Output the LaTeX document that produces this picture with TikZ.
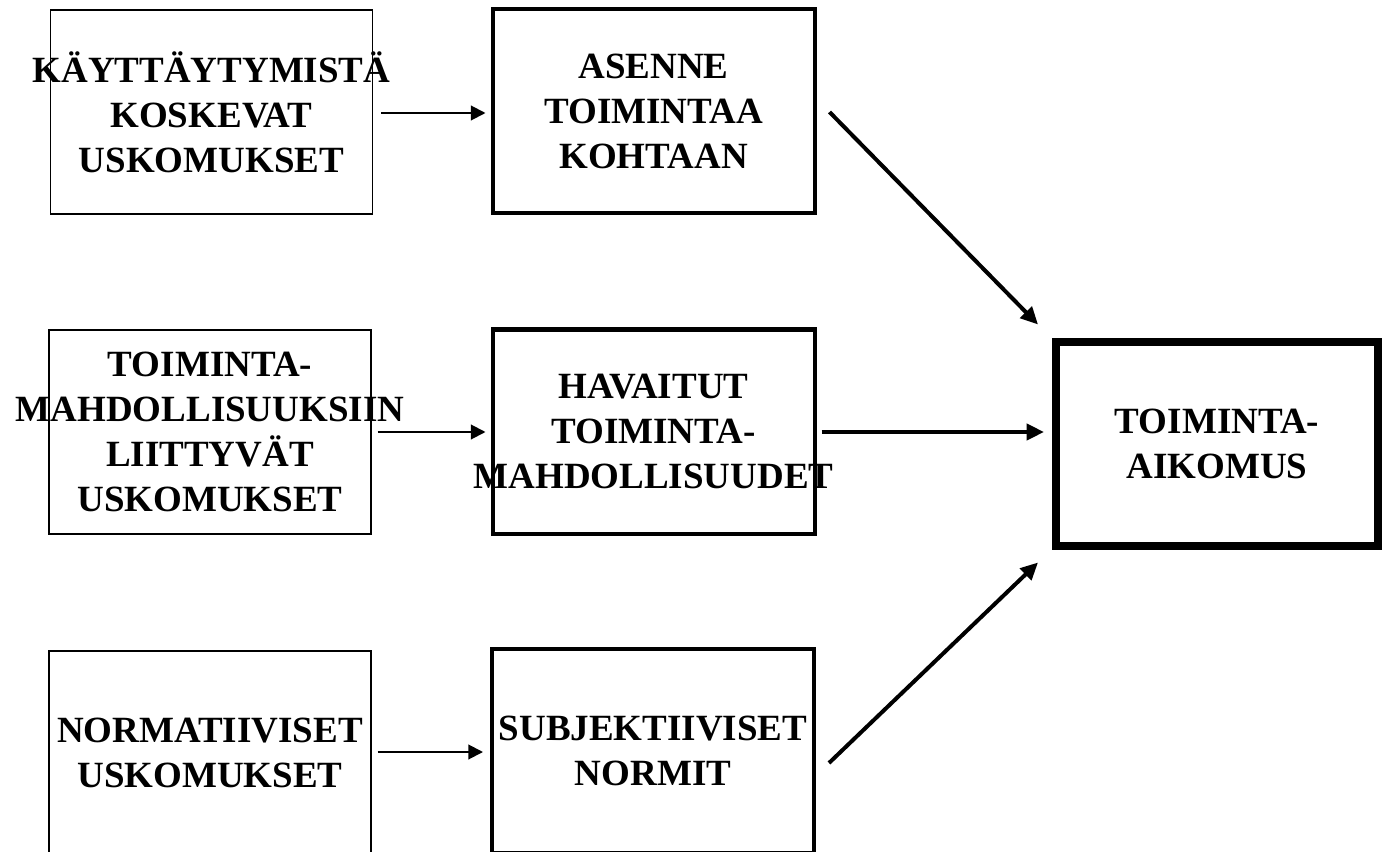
\documentclass[tikz,border=0pt]{standalone}
\usepackage{fontspec}
\setmainfont{Liberation Serif}
\usepackage{tikz}
\usetikzlibrary{arrows.meta}

\begin{document}
\begin{tikzpicture}[x=0.75pt,y=-0.75pt,
    box/.style={draw,minimum width=241.5pt,minimum height=153pt,inner sep=0},
    txt/.style={align=center,inner sep=0,font=\fontsize{27.75}{33.75}\selectfont\bfseries},
    thin arrow/.style={-{Triangle[length=11pt,width=11pt]},line width=1.5pt},
    thick arrow/.style={-{Triangle[length=13pt,width=12pt]},line width=3pt}]%
    \clip (0,0) rectangle (1385,852);
    % uskomukset
    \node(bb)[box,line width=1.1pt] at (211.5,112) {};
    \node(cb)[box,line width=1.1pt] at (210,432) {};
    \node(nb)[box,line width=1.1pt] at (210,753) {};
    % asenne, havaitut, normit
    \node(att)[box,line width=3pt] at (653.5,111) {};
    \node(pbc)[box,line width=3pt] at (653.5,431.5) {};
    \node(sn)[box,line width=3pt] at (653,751) {};
    \node(int)[box,line width=6pt] at (1217,443.5) {};

    \node(bbt)[txt] at (bb.center) {KÄYTTÄYTYMISTÄ\\KOSKEVAT\\USKOMUKSET};
    \node(cbt)[txt] at (cb.center) {TOIMINTA-\\MAHDOLLISUUKSIIN\\LIITTYVÄT\\USKOMUKSET};
    \node(nbt)[txt] at (nb.center) {NORMATIIVISET\\USKOMUKSET};
    \node(attt)[txt] at (att.center) {ASENNE\\TOIMINTAA\\KOHTAAN};
    \node(pbct)[txt] at (pbc.center) {HAVAITUT\\TOIMINTA-\\MAHDOLLISUUDET};
    \node(snt)[txt] at (sn.center) {SUBJEKTIIVISET\\NORMIT};
    \node(intt)[txt] at (int.center) {TOIMINTA-\\AIKOMUS};

    \draw[thin arrow] ([shift={(8,1)}]bb.east) -- ([shift={(-5,2)}]att.west);
    \draw[thin arrow] ([shift={(6,0)}]cb.east) -- ([shift={(-5,0.5)}]pbc.west);
    \draw[thin arrow] ([shift={(6,-1)}]nb.east) -- ([shift={(-7,1)}]sn.west);
    \draw[thick arrow] ([shift={(13,1)}]att.east) -- ([shift={(-14,-13)}]int.north west);
    \draw[thick arrow] ([shift={(5,0.5)}]pbc.east) -- ([shift={(-8,-11.5)}]int.west);
    \draw[thick arrow] ([shift={(13,12)}]sn.east) -- ([shift={(-14,13)}]int.south west);
\end{tikzpicture}
\end{document}
